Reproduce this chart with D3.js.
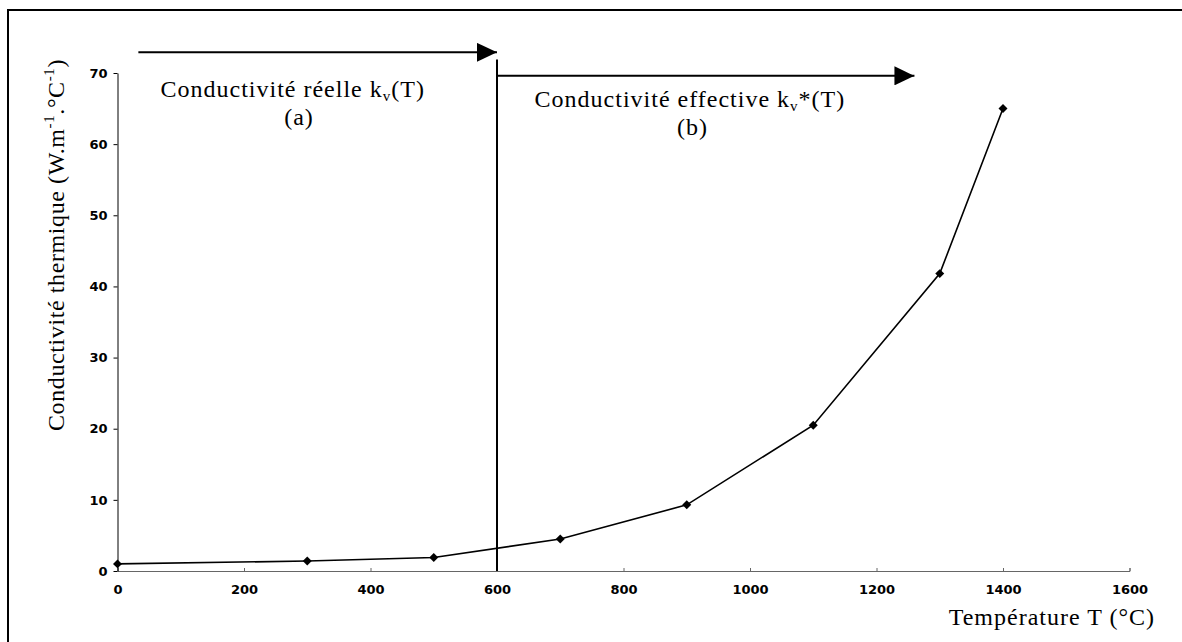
<html>
<head>
<meta charset="utf-8">
<script src="https://d3js.org/d3.v7.min.js"></script>
<style>
  body {margin:0; background:white;}
  svg {font-family: "Liberation Serif", "Times New Roman", serif;}
  svg text {fill:black;}
  .lbl {font-size:24px; letter-spacing:1px;}
  .tick text {font-family: "DejaVu Sans", Verdana, sans-serif; font-weight:bold; font-size:13px; letter-spacing:0;}
</style>
</head>
<body>
<svg width=1182 height=642 id="chart1"></svg>
<script>
  // temperature (°C) and conductivity (W/m/°C)
  var temps = [0, 300, 500, 700, 900, 1100, 1300, 1400];
  var conds = [1.0, 1.4, 1.9, 4.5, 9.3, 20.5, 41.8, 65.0];
  var xTicks = [0, 200, 400, 600, 800, 1000, 1200, 1400, 1600];
  var yTicks = [0, 10, 20, 30, 40, 50, 60, 70];
  // limit between real and effective conductivity
  var tLimit = 600;

  var x = d3.scaleLinear().domain([0,1600]).range([117.5,1129.5]);
  var y = d3.scaleLinear().domain([0,70]).range([571,73]);

  var svg = d3.select("#chart1");

  // frame (only top and left edges are visible)
  svg.append("rect")
    .attr("x",8).attr("y",10)
    .attr("width",1300).attr("height",800)
    .attr("fill","none")
    .attr("stroke","black")
    .attr("stroke-width",2);

  // arrow head
  svg.append("defs").append("marker")
    .attr("id","head")
    .attr("viewBox","0 0 20 19")
    .attr("refX",20).attr("refY",9.5)
    .attr("markerWidth",20).attr("markerHeight",19)
    .attr("markerUnits","userSpaceOnUse")
    .attr("orient","auto")
    .append("path")
      .attr("d","M0,0L20,9.5L0,19Z")
      .attr("fill","black");

  // x axis
  svg.append("g")
    .attr("transform","translate(0," + y(0) + ")")
    .call(d3.axisBottom(x).tickValues(xTicks).tickSize(-3).tickPadding(14).tickFormat(d3.format("")))
    .call(function(g){ g.select(".domain").attr("stroke","#666"); })
    .call(function(g){ g.selectAll(".tick line").attr("stroke","#666"); });

  // y axis
  svg.append("g")
    .attr("transform","translate(" + x(0) + ",0)")
    .call(d3.axisLeft(y).tickValues(yTicks).tickSize(4).tickPadding(6).tickSizeOuter(0));

  // vertical separation line at 600 °C
  svg.append("line")
    .attr("x1",x(tLimit)).attr("x2",x(tLimit))
    .attr("y1",y(71.9)).attr("y2",y(0))
    .attr("stroke","black")
    .attr("stroke-width",2);

  // arrows (a) and (b)
  var arrows = [
    {t0: 33, t1: tLimit, k: 72.9},
    {t0: tLimit, t1: 1260, k: 69.6}
  ];
  svg.selectAll(".arrow").data(arrows).enter()
    .append("line")
      .attr("class","arrow")
      .attr("x1",function(d){ return x(d.t0); })
      .attr("x2",function(d){ return x(d.t1); })
      .attr("y1",function(d){ return y(d.k); })
      .attr("y2",function(d){ return y(d.k); })
      .attr("stroke","black")
      .attr("stroke-width",2)
      .attr("marker-end","url(#head)");

  // curve
  var pts = temps.map(function(t,i){ return {t:t, k:conds[i]}; });
  svg.append("path")
    .datum(pts)
    .attr("fill","none")
    .attr("stroke","black")
    .attr("stroke-width",1.6)
    .attr("d", d3.line()
      .x(function(d){ return x(d.t); })
      .y(function(d){ return y(d.k); }));

  svg.selectAll(".pt").data(pts).enter()
    .append("path")
      .attr("class","pt")
      .attr("d", d3.symbol(d3.symbolSquare, 40)())
      .attr("transform",function(d){ return "translate(" + x(d.t) + "," + y(d.k) + ") rotate(45)"; })
      .attr("fill","black");

  // region labels
  var t1 = svg.append("text")
    .attr("class","lbl")
    .attr("x",x(277)).attr("y",y(66.6))
    .attr("text-anchor","middle");
  t1.append("tspan").text("Conductivité réelle k");
  t1.append("tspan").attr("dy",4).style("font-size","15px").text("v");
  t1.append("tspan").attr("dy",-4).text("(T)");

  svg.append("text")
    .attr("class","lbl")
    .attr("x",x(287)).attr("y",y(62.7))
    .attr("text-anchor","middle")
    .text("(a)");

  var t2 = svg.append("text")
    .attr("class","lbl")
    .attr("x",x(905)).attr("y",y(65.2))
    .attr("text-anchor","middle");
  t2.append("tspan").text("Conductivité effective k");
  t2.append("tspan").attr("dy",4).style("font-size","15px").text("v");
  t2.append("tspan").attr("dy",-4).text("*(T)");

  svg.append("text")
    .attr("class","lbl")
    .attr("x",x(909)).attr("y",y(61.3))
    .attr("text-anchor","middle")
    .text("(b)");

  // axis titles
  svg.append("text")
    .attr("class","lbl")
    .attr("x",1155).attr("y",625)
    .attr("text-anchor","end")
    .text("Température T (°C)");

  var yl = svg.append("text")
    .attr("class","lbl")
    .attr("transform","translate(64,245) rotate(-90)")
    .attr("text-anchor","middle")
    .style("letter-spacing","0.6px");
  yl.append("tspan").text("Conductivité thermique (W.m");
  yl.append("tspan").attr("dy",-10).style("font-size","15px").text("-1");
  yl.append("tspan").attr("dy",10).text(".°C");
  yl.append("tspan").attr("dy",-10).style("font-size","15px").text("-1");
  yl.append("tspan").attr("dy",10).text(")");
</script>
</body>
</html>
